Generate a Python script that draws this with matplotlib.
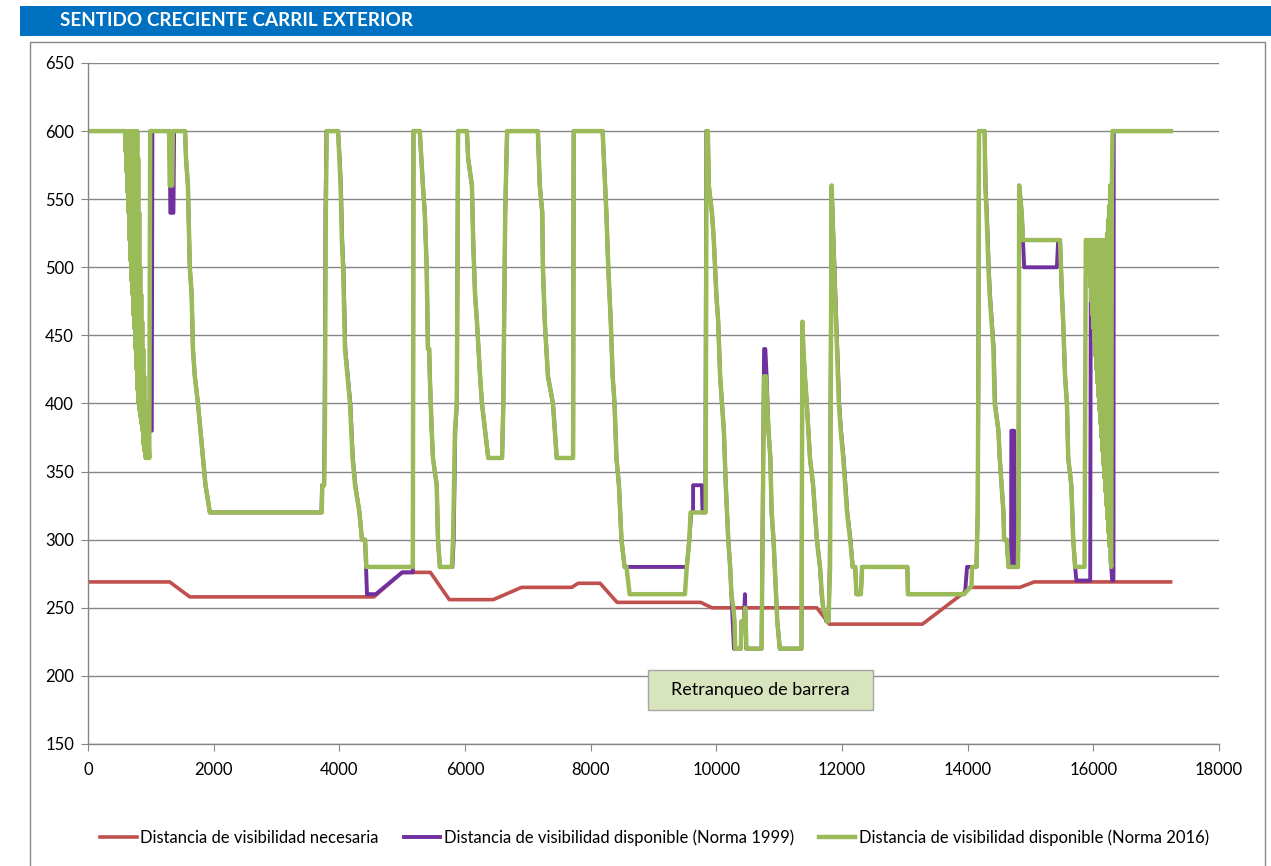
import numpy as np
import matplotlib
matplotlib.use("Agg")
from matplotlib import pyplot as plt
from matplotlib.patches import Rectangle

plt.rcParams['font.family'] = ['Lato', 'DejaVu Sans']

#------------------------------------------------------------------
# datos (pk en m, distancia en m)
#------------------------------------------------------------------
titulo = "SENTIDO CRECIENTE CARRIL EXTERIOR"
etiquetas = ["Distancia de visibilidad necesaria",
             "Distancia de visibilidad disponible (Norma 1999)",
             "Distancia de visibilidad disponible (Norma 2016)"]
nota = "Retranqueo de barrera"

# distancia necesaria
nec_pts = [(0, 269), (1300, 269), (1620, 258), (4550, 258), (5000, 276), (5450, 276),
           (5750, 256), (6450, 256), (6900, 265), (7700, 265), (7800, 268), (8150, 268),
           (8420, 254), (9750, 254), (9930, 250), (11600, 250), (11800, 238), (13280, 238),
           (14050, 265), (14830, 265), (15060, 269), (17230, 269)]

# tramos muy oscilantes (comunes a ambas normas)
banda1 = [(590, 600), (598, 585), (606, 600), (614, 570), (622, 600), (630, 555),
          (638, 600), (646, 540), (654, 600), (662, 520), (670, 600), (678, 505),
          (686, 600), (694, 490), (702, 600), (710, 480), (718, 600), (726, 465),
          (734, 600), (742, 455), (750, 600), (758, 440), (766, 600), (774, 425),
          (782, 600), (790, 410), (798, 580), (806, 400), (814, 540), (822, 395),
          (830, 500), (838, 390), (846, 480), (854, 385), (862, 460), (870, 380),
          (878, 440), (886, 370), (894, 420), (902, 365), (910, 400), (918, 360),
          (926, 400), (934, 360), (942, 380), (950, 360), (958, 380)]
banda2 = [(15900, 520), (15908, 515), (15916, 520), (15924, 505), (15932, 520), (15940, 495),
          (15948, 520), (15956, 485), (15964, 520), (15972, 475), (15980, 520), (15988, 465),
          (15996, 520), (16004, 455), (16012, 520), (16020, 445), (16028, 520), (16036, 435),
          (16044, 520), (16052, 425), (16060, 520), (16068, 415), (16076, 520), (16084, 405),
          (16092, 520), (16100, 395), (16108, 520), (16116, 385), (16124, 520), (16132, 375),
          (16140, 520), (16148, 365), (16156, 520), (16164, 355), (16172, 520), (16180, 345),
          (16188, 520), (16196, 335), (16204, 520), (16212, 325), (16220, 525), (16228, 315),
          (16236, 535), (16244, 305), (16252, 545), (16260, 295), (16268, 560), (16276, 285)]

n2016_ini = [(0, 600), (580, 600)]
n2016_pts = [(975, 360), (990, 600), (1290, 600), (1300, 560), (1340, 560), (1350, 600),
             (1545, 600), (1560, 580), (1590, 560), (1620, 500), (1650, 480), (1670, 440),
             (1700, 420), (1750, 400), (1790, 380), (1830, 360), (1870, 340), (1940, 320),
             (3720, 320), (3730, 340), (3760, 340), (3770, 380), (3785, 540), (3800, 600),
             (3980, 600), (4000, 580), (4020, 560), (4040, 520), (4060, 500), (4090, 440),
             (4130, 420), (4170, 400), (4190, 380), (4210, 360), (4250, 340), (4320, 320),
             (4360, 300), (4410, 300), (4430, 280), (5170, 280), (5180, 600), (5280, 600),
             (5330, 560), (5360, 540), (5390, 500), (5410, 440), (5430, 440), (5440, 420),
             (5470, 380), (5490, 360), (5550, 340), (5570, 300), (5600, 280), (5790, 280),
             (5810, 300), (5840, 380), (5870, 400), (5890, 600), (6030, 600), (6050, 580),
             (6110, 560), (6130, 520), (6160, 480), (6190, 460), (6240, 420), (6270, 400),
             (6320, 380), (6370, 360), (6590, 360), (6610, 400), (6640, 540), (6670, 600),
             (7160, 600), (7190, 560), (7230, 540), (7240, 500), (7270, 460), (7320, 420),
             (7400, 400), (7430, 380), (7460, 360), (7720, 360), (7730, 600), (8190, 600),
             (8210, 580), (8250, 540), (8280, 500), (8320, 460), (8350, 420), (8380, 400),
             (8410, 360), (8450, 340), (8490, 300), (8540, 280), (8570, 280), (8620, 260),
             (9500, 260), (9530, 280), (9570, 300), (9590, 320), (9830, 320), (9845, 600),
             (9865, 600), (9880, 560), (9930, 540), (9960, 520), (10000, 480), (10030, 460),
             (10060, 420), (10090, 400), (10120, 380), (10150, 340), (10190, 300), (10220, 280),
             (10240, 260), (10270, 250), (10290, 240), (10300, 220), (10390, 220), (10400, 240),
             (10440, 240), (10460, 250), (10480, 220), (10720, 220), (10760, 420), (10790, 420),
             (10830, 380), (10860, 360), (10880, 320), (10910, 300), (10930, 280), (10970, 240),
             (11010, 220), (11355, 220), (11370, 460), (11385, 440), (11410, 420), (11440, 400),
             (11490, 360), (11540, 340), (11570, 320), (11600, 300), (11650, 280), (11680, 260),
             (11700, 250), (11760, 240), (11785, 240), (11810, 280), (11835, 560), (11860, 520),
             (11890, 480), (11920, 440), (11950, 400), (11980, 380), (12020, 360), (12050, 340),
             (12080, 320), (12130, 300), (12170, 280), (12210, 280), (12230, 260), (12300, 260),
             (12320, 280), (13040, 280), (13050, 260), (13940, 260), (14060, 266), (14070, 280),
             (14140, 280), (14160, 320), (14170, 420), (14180, 600), (14270, 600), (14280, 560),
             (14300, 540), (14330, 500), (14350, 480), (14380, 460), (14410, 440), (14430, 400),
             (14490, 380), (14510, 360), (14540, 340), (14570, 320), (14580, 300), (14620, 300),
             (14650, 280), (14800, 280), (14810, 320), (14820, 560), (14860, 540), (14880, 520),
             (15470, 520), (15500, 480), (15520, 460), (15550, 420), (15580, 400), (15600, 360),
             (15650, 340), (15680, 300), (15710, 280), (15860, 280), (15880, 520)]
n2016_fin = [(16285, 280), (16295, 560), (16305, 600), (17230, 600)]

n1999_ini = [(0, 600), (580, 600)]
n1999_pts = [(970, 380), (1015, 380), (1025, 600), (1300, 600), (1310, 540), (1360, 540),
             (1370, 600), (1545, 600), (1560, 580), (1590, 560), (1620, 500), (1650, 480),
             (1670, 440), (1700, 420), (1750, 400), (1790, 380), (1830, 360), (1870, 340),
             (1940, 320), (3715, 320), (3725, 340), (3755, 340), (3765, 380), (3780, 540),
             (3795, 600), (3980, 600), (4005, 580), (4025, 560), (4045, 520), (4065, 500),
             (4095, 440), (4135, 420), (4175, 400), (4195, 380), (4215, 360), (4255, 340),
             (4320, 320), (4360, 300), (4410, 300), (4440, 260), (4580, 260), (5000, 276),
             (5170, 276), (5180, 600), (5280, 600), (5330, 560), (5360, 540), (5390, 500),
             (5410, 440), (5430, 440), (5440, 420), (5470, 380), (5490, 360), (5550, 340),
             (5570, 300), (5600, 280), (5800, 280), (5820, 300), (5845, 380), (5870, 400),
             (5890, 600), (6030, 600), (6050, 580), (6110, 560), (6130, 520), (6160, 480),
             (6190, 460), (6240, 420), (6270, 400), (6320, 380), (6370, 360), (6590, 360),
             (6610, 400), (6640, 540), (6670, 600), (7160, 600), (7190, 560), (7230, 540),
             (7240, 500), (7270, 460), (7320, 420), (7400, 400), (7430, 380), (7460, 360),
             (7720, 360), (7730, 600), (8190, 600), (8210, 580), (8250, 540), (8280, 500),
             (8320, 460), (8350, 420), (8380, 400), (8410, 360), (8450, 340), (8490, 300),
             (8540, 280), (9500, 280), (9530, 280), (9570, 300), (9600, 320), (9630, 320),
             (9630, 340), (9770, 340), (9780, 320), (9825, 320), (9840, 600), (9865, 600),
             (9880, 560), (9930, 540), (9960, 520), (10000, 480), (10030, 460), (10060, 420),
             (10090, 400), (10120, 380), (10150, 340), (10190, 300), (10220, 280), (10240, 260),
             (10260, 240), (10280, 220), (10390, 220), (10400, 240), (10440, 240), (10455, 260),
             (10475, 220), (10720, 220), (10760, 440), (10780, 440), (10800, 420), (10830, 380),
             (10860, 360), (10880, 320), (10910, 300), (10930, 280), (10970, 240), (11010, 220),
             (11355, 220), (11370, 460), (11385, 440), (11410, 420), (11440, 400), (11490, 360),
             (11540, 340), (11570, 320), (11600, 300), (11650, 280), (11675, 260), (11700, 250),
             (11750, 240), (11785, 240), (11805, 280), (11835, 560), (11865, 520), (11895, 480),
             (11925, 440), (11955, 400), (11985, 380), (12025, 360), (12055, 340), (12085, 320),
             (12135, 300), (12170, 280), (12210, 280), (12230, 260), (12300, 260), (12320, 280),
             (13040, 280), (13050, 260), (13940, 260), (13960, 262), (13990, 280), (14140, 280),
             (14160, 320), (14170, 420), (14180, 600), (14270, 600), (14285, 560), (14305, 540),
             (14335, 500), (14355, 480), (14385, 460), (14415, 440), (14435, 400), (14490, 380),
             (14510, 360), (14540, 340), (14570, 320), (14580, 300), (14620, 300), (14650, 280),
             (14690, 280), (14695, 380), (14740, 380), (14745, 280), (14800, 280), (14810, 320),
             (14820, 560), (14860, 540), (14880, 520), (14900, 500), (15420, 500), (15440, 520),
             (15470, 520), (15500, 480), (15520, 460), (15550, 420), (15580, 400), (15600, 360),
             (15650, 340), (15680, 300), (15710, 280), (15730, 270), (15950, 270), (15960, 500)]
n1999_fin = [(16285, 280), (16300, 270), (16320, 270), (16325, 600), (17230, 600)]

#------------------------------------------------------------------
# series
#------------------------------------------------------------------
nec = np.array(nec_pts)
n2016 = np.array(n2016_ini + banda1 + n2016_pts + banda2 + n2016_fin)
n1999 = np.array(n1999_ini + banda1 + n1999_pts + [p for p in banda2 if p[0] > 15960] + n1999_fin)

gris = '#868686'

fig = plt.figure(figsize=(12.71, 8.66), dpi=100)

# cabecera azul
fig.patches.append(Rectangle((20/1271, 1-36/866), 1.0, 30/866, transform=fig.transFigure,
                             facecolor='#0070C0', edgecolor='none', zorder=0))
fig.text(60/1271, 1-21/866, titulo, color='white', fontsize=13.6, fontweight='bold',
         ha='left', va='center')
# marco del grafico
fig.patches.append(Rectangle((30/1271, -0.02), (1265-30)/1271, 0.02+1-42/866,
                             transform=fig.transFigure, facecolor='none',
                             edgecolor=gris, linewidth=1.0, zorder=0))

ax = fig.add_axes([88/1271, 1-744/866, (1219-88)/1271, (744-63)/866])
ax.plot(nec[:, 0], nec[:, 1], color='#C0504D', lw=2.6, label=etiquetas[0], solid_joinstyle='round')
ax.plot(n1999[:, 0], n1999[:, 1], color='#7030A0', lw=2.8, label=etiquetas[1], solid_joinstyle='round')
ax.plot(n2016[:, 0], n2016[:, 1], color='#9BBB59', lw=3.2, label=etiquetas[2], solid_joinstyle='round')

ax.set_xlim(0, 18000)
ax.set_ylim(150, 650)
ax.set_xticks(np.arange(0, 18001, 2000))
ax.set_yticks(np.arange(150, 651, 50))
ax.yaxis.grid(True, color=gris, lw=1.0)
ax.set_axisbelow(True)
for s in ['top', 'right']:
    ax.spines[s].set_visible(False)
for s in ['left', 'bottom']:
    ax.spines[s].set_color(gris)
    ax.spines[s].set_linewidth(1.0)
ax.tick_params(axis='both', colors=gris, length=5, labelsize=12, labelcolor='black')
ax.tick_params(axis='x', pad=8)
ax.tick_params(axis='y', pad=5)

# nota
ax.add_patch(Rectangle((8912, 175), 12493-8912, 204.3-175, facecolor='#D7E4BD',
                       edgecolor='#A6A6A6', lw=1.0, zorder=5))
ax.text((8912+12493)/2, 189.6, nota, ha='center', va='center', fontsize=13, zorder=6)

fig.legend(loc='center', bbox_to_anchor=(0.515, 1-838/866), ncol=3, frameon=False,
           fontsize=12, handlelength=2.2, handletextpad=0.2, columnspacing=1.5)

plt.savefig("out.png", dpi=100)
